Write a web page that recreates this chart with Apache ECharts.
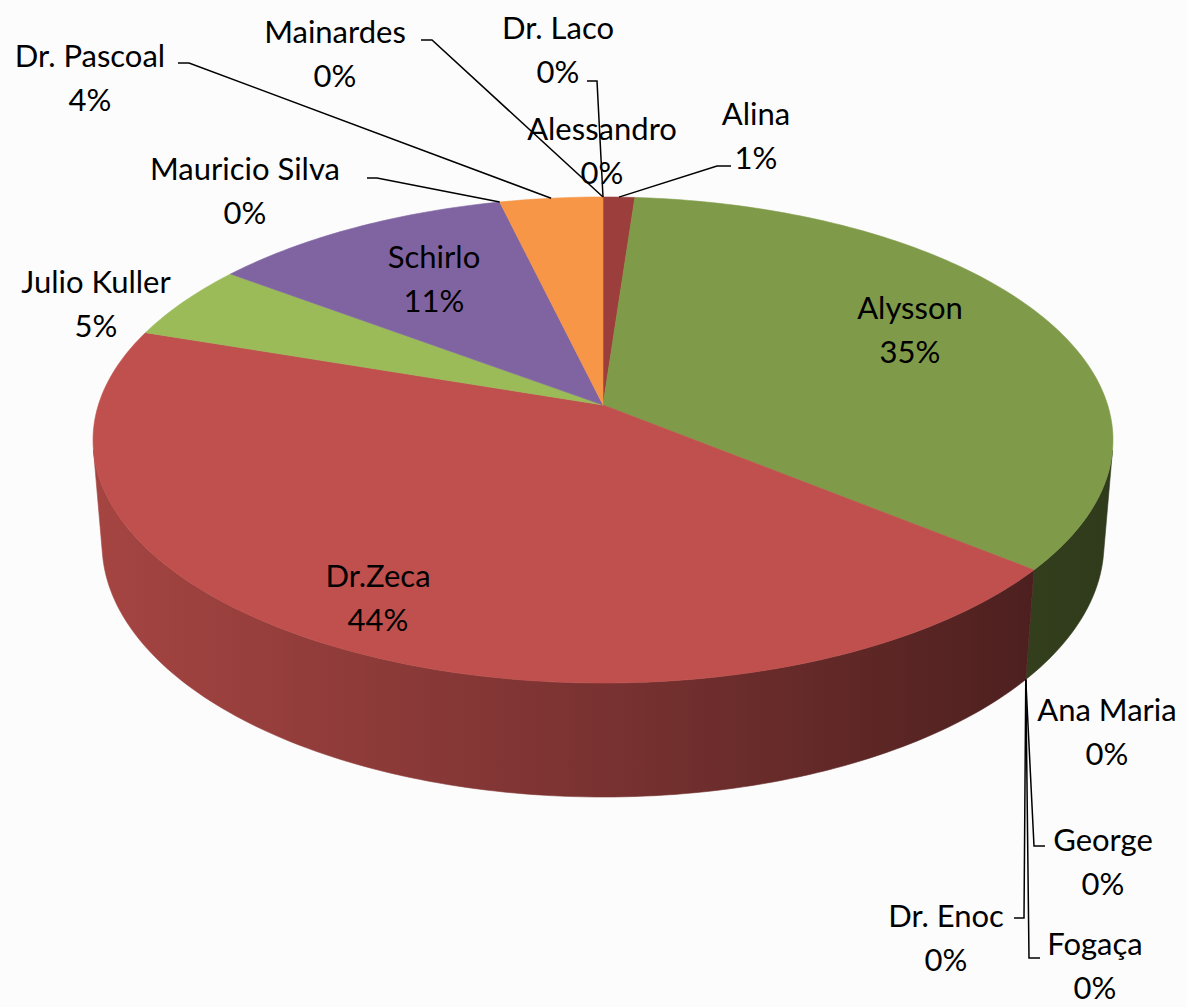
<!DOCTYPE html>
<html>
<head>
<meta charset="utf-8">
<style>
  html, body { margin: 0; padding: 0; background: #fcfcfc; }
  #chart { width: 1187px; height: 1007px; }
</style>
<script src="https://cdn.jsdelivr.net/npm/echarts@6/dist/echarts.min.js"></script>
</head>
<body>
<div id="chart"></div>
<script>
// slices, clockwise from 12 o'clock
const names = ['Alessandro', 'Alina', 'Alysson', 'Ana Maria', 'George', 'Fogaça', 'Dr. Enoc',
  'Dr.Zeca', 'Julio Kuller', 'Schirlo', 'Mauricio Silva', 'Dr. Pascoal', 'Mainardes', 'Dr. Laco'];
const values = [0, 1.15, 34.7, 0, 0, 0, 0, 44.3, 5.05, 11.05, 0, 3.75, 0, 0];
const colors = ['#4F81BD', '#9C3E3C', '#7F9A48', '#4BACC6', '#F79646', '#4F81BD', '#4F81BD',
  '#C0504D', '#9BBB59', '#8064A2', '#4BACC6', '#F79646', '#2C4D75', '#772C2A'];

// label placement (block centre) and leader elbows, kept apart from the data
const labelPos = [[602, 150], [756, 135], [910, 329], [1107, 731], [1103, 861], [1095, 965], [946, 937],
  [378, 597], [96, 303], [434, 278], [245, 190], [90, 77], [335, 53], [558, 49]];
const leaders = [null, [[731, 166], [717, 166]], null, null, [[1045, 846], [1034, 846]],
  [[1040, 958], [1029, 958]], [[1014, 918], [1024, 918]], null, null, null,
  [[367, 178], [377, 178]], [[178, 63], [189, 63]], [[421, 40], [432, 40]], [[587, 81], [597, 81]]];
const anchorRim = ['top', 'top', 'top', 'top', 'bottom', 'bottom', 'bottom',
  'top', 'top', 'top', 'top', 'top', 'top', 'top'];

const total = values.reduce((a, b) => a + b, 0);
const startAngles = [];
let acc = 0;
values.forEach((v) => { startAngles.push(acc / total * 360); acc += v; });

// perspective of the tilted disc
const CX = 603, CY = 405, FX = 3099, FY = 3132;
const SA = 0.4666, CA = 0.8845, Z0 = 6.141, DEPTH = 0.2316;

function project(theta, r, h) {
  const t = theta * Math.PI / 180;
  const u = r * Math.sin(t), v = -r * Math.cos(t);
  const z = Z0 - v * CA + h * SA;
  return [CX + FX * u / z, CY + FY * (v * SA + h * CA) / z];
}

// outer wall is only seen where it faces the camera
const wallFrom = Math.acos(-1 / (Z0 * CA)) * 180 / Math.PI;
const wallTo = 360 - wallFrom;

function arc(a0, a1, h) {
  const n = Math.max(2, Math.ceil(a1 - a0) + 1);
  const pts = [];
  for (let k = 0; k < n; k++) pts.push(project(a0 + (a1 - a0) * k / (n - 1), 1, h));
  return pts;
}

function shade(hex, k) {
  const n = parseInt(hex.slice(1), 16);
  const r = Math.round(((n >> 16) & 255) * k);
  const g = Math.round(((n >> 8) & 255) * k);
  const b = Math.round((n & 255) * k);
  return 'rgb(' + r + ',' + g + ',' + b + ')';
}

const chart = echarts.init(document.getElementById('chart'), null, { renderer: 'svg' });

chart.setOption({
  backgroundColor: '#fcfcfc',
  animation: false,
  series: [
    {
      type: 'custom',
      coordinateSystem: 'none',
      data: values.map((v, i) => ({ name: names[i], value: v })),
      renderItem: function (params, api) {
        const i = params.dataIndex;
        const val = api.value(0);
        const a0 = startAngles[i];
        const a1 = a0 + val / total * 360;
        const col = colors[i];
        const children = [];

        if (a1 - a0 > 0.01) {
          // top face
          children.push({
            type: 'polygon',
            z2: 10,
            shape: { points: [project(0, 0, 0)].concat(arc(a0, a1, 0)) },
            style: { fill: col, stroke: col, lineWidth: 0.6 }
          });
          // side wall
          const w0 = Math.max(a0, wallFrom), w1 = Math.min(a1, wallTo);
          if (w1 > w0) {
            const pts = arc(w0, w1, 0).concat(arc(w0, w1, DEPTH).reverse());
            const fill = {
              type: 'linear', x: 93, y: 0, x2: 1113, y2: 0, global: true,
              colorStops: [
                { offset: 0, color: shade(col, 0.86) },
                { offset: 0.5, color: shade(col, 0.63) },
                { offset: 0.92, color: shade(col, 0.4) },
                { offset: 1, color: shade(col, 0.38) }
              ]
            };
            children.push({
              type: 'polygon',
              z2: 5,
              shape: { points: pts },
              style: { fill: fill, stroke: fill, lineWidth: 0.6 }
            });
          }
        }

        // leader line
        if (leaders[i]) {
          const mid = (a0 + a1) / 2;
          const anchor = project(mid, 1, anchorRim[i] === 'bottom' ? DEPTH : 0);
          children.push({
            type: 'polyline',
            z2: 20,
            shape: { points: leaders[i].concat([anchor]) },
            style: { stroke: '#000', lineWidth: 1.5, fill: null }
          });
        }

        // label
        children.push({
          type: 'text',
          z2: 30,
          x: labelPos[i][0],
          y: labelPos[i][1],
          style: {
            text: names[i] + '\n' + Math.round(val / total * 100) + '%',
            fill: '#000',
            fontFamily: 'Lato',
            fontSize: 31,
            lineHeight: 44,
            align: 'center',
            verticalAlign: 'middle'
          }
        });

        return { type: 'group', children: children };
      }
    }
  ]
});

window.addEventListener('resize', () => chart.resize());
</script>
</body>
</html>
